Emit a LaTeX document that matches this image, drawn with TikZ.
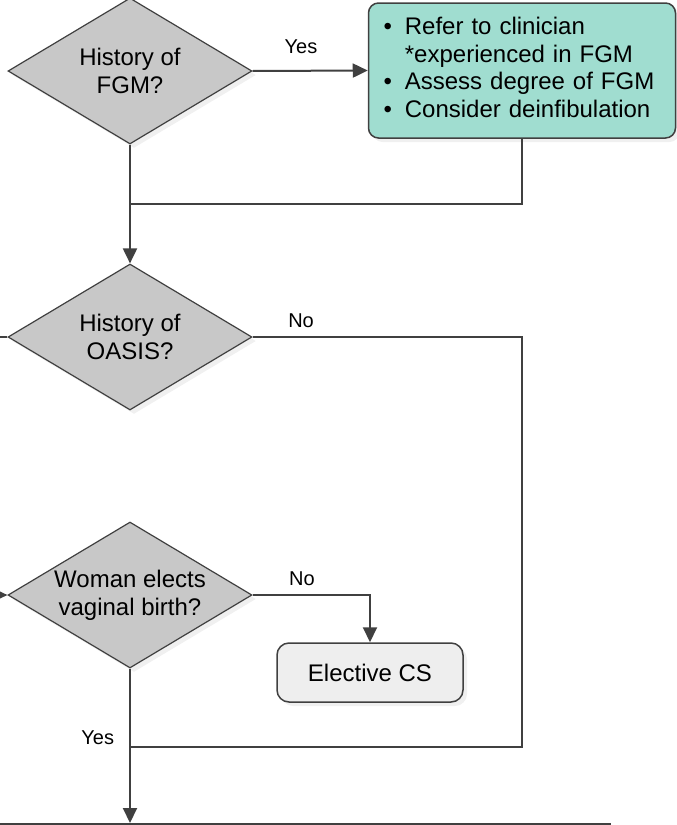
\documentclass[tikz,border=0pt]{standalone}
\usepackage{fontspec}
\setmainfont{Liberation Sans}
\usetikzlibrary{shapes.geometric,arrows.meta,shadows,positioning}

\definecolor{linegray}{HTML}{404040}
\definecolor{decisiongray}{HTML}{C8C8C8}
\definecolor{actionteal}{HTML}{A0DDD0}
\definecolor{outcomegray}{HTML}{EEEEEE}

\tikzset{
  softshadow/.style={drop shadow={shadow xshift=4pt, shadow yshift=-4pt, opacity=0.12}},
  decision/.style={diamond, aspect=1.67, draw=linegray, line width=1.2pt,
    fill=decisiongray, minimum width=244pt, minimum height=146pt,
    inner sep=0pt, align=center, font=\fontsize{24}{28}\selectfont, softshadow},
  actionbox/.style={rectangle, rounded corners=10pt, draw=linegray, line width=1.5pt,
    fill=actionteal, text width=277pt, inner xsep=15pt, inner ysep=0pt,
    minimum height=135pt, align=left, font=\fontsize{24}{27.6}\selectfont, softshadow},
  outcomebox/.style={rectangle, rounded corners=12pt, draw=linegray, line width=1.5pt,
    fill=outcomegray, minimum width=186pt, minimum height=59pt,
    font=\fontsize{24}{28}\selectfont, softshadow},
  flow/.style={draw=linegray, line width=2pt},
  flowarrow/.style={flow, -{Triangle[length=15pt,width=14pt]}},
  branch/.style={font=\fontsize{20}{24}\selectfont, inner sep=2pt}
}

\begin{document}
\begin{tikzpicture}[x=1pt, y=-1pt]
  \useasboundingbox (0,0) rectangle (677,825);

  % Decisions
  \node[decision] (fgm) at (130,71) {History of\\FGM?};
  \node[decision] (oasis) at (130,337) {History of\\OASIS?};
  \node[decision] (elect) at (130,595) {Woman elects\\vaginal birth?};

  % Actions and outcomes
  \node[actionbox] (refer) at (522,70.5) {%
    \begin{tabular}{@{}l@{\hspace{13pt}}l@{}}
      \textbullet & Refer to clinician\\
                  & *experienced in FGM\\
      \textbullet & Assess degree of FGM\\
      \textbullet & Consider deinfibulation
    \end{tabular}};
  \node[outcomebox] (cs) at (370,672.5) {Elective CS};

  % Junctions and free ends
  \coordinate (joinfgm) at (130,204);
  \coordinate (joinoasis) at (130,747);
  \coordinate (offleft) at (0,337);
  \coordinate (inleft) at (0,595);
  \coordinate (nextstep) at (130,823);

  % FGM branch
  \draw[flowarrow] (fgm.east) -- node[branch, above=14pt, pos=0.42] {Yes} (refer.west);
  \draw[flow] (refer.south) |- (joinfgm);
  \draw[flowarrow] (fgm.south) -- (oasis.north);

  % OASIS branch
  \draw[flow] (oasis.west) -- (offleft);
  \draw[flow] (oasis.east) -- node[branch, above=6pt, pos=0.18] {No} (oasis.east -| refer.south) |- (joinoasis);

  % Mode of birth
  \draw[flowarrow] (inleft) -- (elect.west);
  \draw[flowarrow] (elect.east) -| node[branch, above=6pt, pos=0.21] {No} (cs.north);
  \draw[flowarrow] (elect.south) -- node[branch, left=13pt, pos=0.445] {Yes} (nextstep);

  % Top edge of the next box
  \draw[flow, line width=1.4pt] (0,824) -- (611,824);
\end{tikzpicture}
\end{document}
